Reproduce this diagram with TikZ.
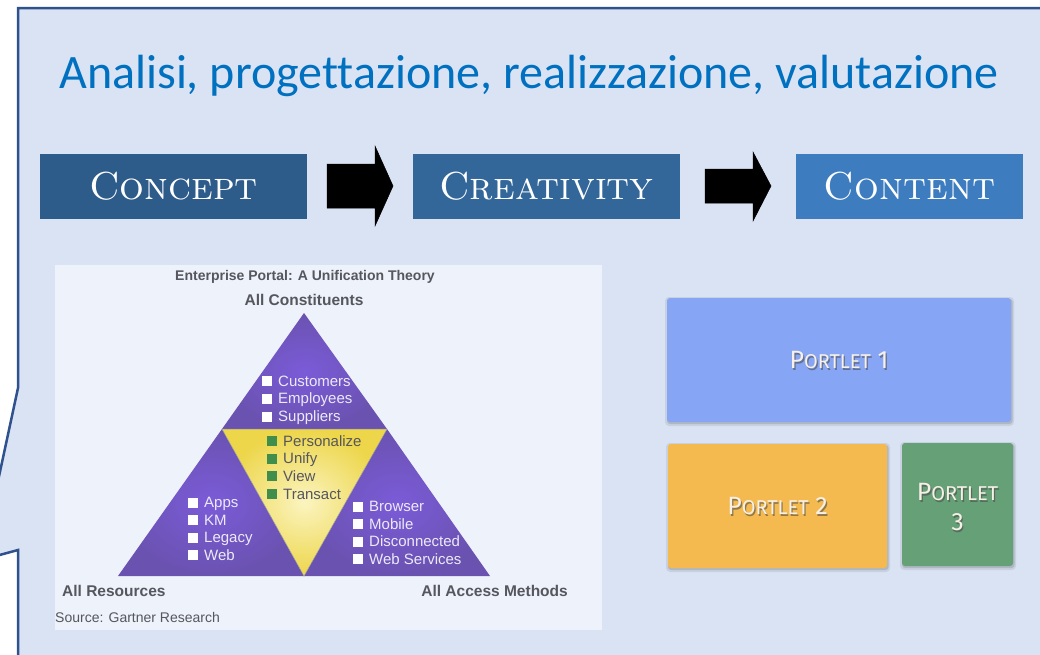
\documentclass[tikz,border=0pt]{standalone}
\usepackage{fontspec}
\newfontfamily\carlito[Ligatures=NoCommon]{Carlito}
\newfontfamily\arial{Liberation Sans}
\newfontfamily\portfont{Fira Sans}
\definecolor{bgblue}{HTML}{DAE3F3}
\definecolor{border}{HTML}{2F528F}
\definecolor{titleblue}{HTML}{0070C0}
\definecolor{cA}{HTML}{2D5B8A}
\definecolor{cB}{HTML}{346799}
\definecolor{cC}{HTML}{3D7CBF}
\definecolor{figbg}{HTML}{EEF2FA}
\definecolor{purpO}{HTML}{6A52B0}
\definecolor{purpI}{HTML}{7B5BD8}
\definecolor{yelO}{HTML}{EDD64A}
\definecolor{yelI}{HTML}{FBF4C0}
\definecolor{sqgreen}{HTML}{3F8E4C}
\definecolor{figtext}{HTML}{55565E}
\definecolor{listw}{HTML}{ECEAF8}
\definecolor{p1}{HTML}{87A5F5}
\definecolor{p2}{HTML}{F4B94F}
\definecolor{p3}{HTML}{66A077}
\definecolor{ptext}{HTML}{F6F0E6}
\newcommand{\psc}[1]{{\fontsize{25}{30}\selectfont P}{\fontsize{20}{30}\selectfont ORTLET}#1}
\begin{document}
\begin{tikzpicture}[x=1pt,y=-1pt,
  stagebox/.style={fill=#1, text=white, inner sep=0pt, minimum height=65pt,
    font=\fontsize{39}{44}\selectfont\scshape},
  blockarrow/.style={fill=black, draw=black, line width=0.5pt},
  figlbl/.style={text=figtext, inner sep=0pt, font=\arial\bfseries\fontsize{15.5}{18}\selectfont},
  itemw/.style={text=listw, inner sep=0pt, anchor=base west, font=\arial\fontsize{15}{18}\selectfont},
  itemg/.style={text=figtext, inner sep=0pt, anchor=base west, font=\arial\fontsize{15}{18}\selectfont},
  portlet/.style={fill=#1, rounded corners=3pt, inner sep=0pt},
  ptxt/.style={text=ptext, inner sep=0pt, align=center, font=\portfont\fontsize{25}{30}\selectfont},
  pshadow/.style={text=black!70, opacity=0.6, inner sep=0pt, align=center, font=\portfont\fontsize{25}{30}\selectfont}
]
\useasboundingbox (0,0) rectangle (1040,654);
\clip (0,0) rectangle (1040,654);
\fill[white] (0,0) rectangle (1040,654);
% callout panel
\filldraw[fill=bgblue, draw=border, line width=2.5pt]
  (18,388) -- (18,8) -- (1060,8) -- (1060,680) -- (18,680) -- (18,550) -- (-19,560) -- cycle;

% title
\node[text=titleblue, anchor=base, inner sep=0pt, font=\carlito\fontsize{48}{58}\selectfont] (title) at (529,88)
  {Analisi, progettazione, realizzazione, valutazione};

% stage boxes
\node[stagebox=cA, minimum width=267pt] (concept) at (173.5,186.5) {Concept};
\node[stagebox=cB, minimum width=267pt] (creativity) at (546.5,186.5) {Creativity};
\node[stagebox=cC, minimum width=227pt] (content) at (909.5,186.5) {Content};

% block arrows
\draw[blockarrow] (327,164) -- (375,164) -- (375,146) -- (393,186) -- (375,226) -- (375,208) -- (327,208) -- cycle;
\draw[blockarrow] (705,169) -- (753,169) -- (753,152) -- (771,186) -- (753,221) -- (753,203) -- (705,203) -- cycle;

% Gartner figure
\node[fill=figbg, inner sep=0pt, minimum width=547pt, minimum height=365pt] (fig) at (328.5,447.5) {};
\coordinate (apex) at (304,313);
\coordinate (bl) at (118,576);
\coordinate (br) at (490,576);
\coordinate (yl) at (222,429);
\coordinate (yr) at (387,429);
\coordinate (yb) at (304,576);
\shade[inner color=purpI, outer color=purpO] (apex) -- (yl) -- (yr) -- cycle;
\shade[inner color=purpI, outer color=purpO] (yl) -- (bl) -- (yb) -- cycle;
\shade[inner color=purpI, outer color=purpO] (yr) -- (yb) -- (br) -- cycle;
\shade[inner color=yelI, outer color=yelO, draw=black!40, line width=0.5pt] (yl) -- (yr) -- (yb) -- cycle;

\node[figlbl, font=\arial\bfseries\fontsize{14}{17}\selectfont] (ftitle) at (305,277) {Enterprise Portal: A Unification Theory};
\node[figlbl] (constit) at (304,300) {All Constituents};
\node[figlbl, anchor=west] (resources) at (62,591) {All Resources};
\node[figlbl, anchor=east] (access) at (568,591) {All Access Methods};
\node[text=figtext, inner sep=0pt, anchor=west, font=\arial\fontsize{14}{17}\selectfont] (source) at (55,617) {Source: Gartner Research};

% lists
\foreach \t [count=\i] in {Customers,Employees,Suppliers} {
  \pgfmathsetmacro{\b}{386+17.8*(\i-1)}
  \fill[white] (262,\b-10) rectangle (272,\b);
  \node[itemw] (c\i) at (278,\b) {\t};
}
\foreach \t [count=\i] in {Personalize,Unify,View,Transact} {
  \pgfmathsetmacro{\b}{446+17.7*(\i-1)}
  \fill[sqgreen] (267,\b-10) rectangle (277,\b);
  \node[itemg] (g\i) at (283,\b) {\t};
}
\foreach \t [count=\i] in {Apps,KM,Legacy,Web} {
  \pgfmathsetmacro{\b}{507.5+17.5*(\i-1)}
  \fill[white] (188,\b-10) rectangle (198,\b);
  \node[itemw] (a\i) at (204,\b) {\t};
}
\foreach \t [count=\i] in {Browser,Mobile,Disconnected,Web Services} {
  \pgfmathsetmacro{\b}{511.5+17.5*(\i-1)}
  \fill[white] (353,\b-10) rectangle (363,\b);
  \node[itemw] (b\i) at (369,\b) {\t};
}

% portlets
\foreach \cx/\cy/\w/\h in {839/360/344/124, 777.5/506/219/124, 957.5/504.5/111/123} {
  \fill[black, opacity=0.08, rounded corners=4pt] (\cx-\w/2-2,\cy-\h/2-1) rectangle (\cx+\w/2+3,\cy+\h/2+4);
  \fill[black, opacity=0.12, rounded corners=3pt] (\cx-\w/2,\cy-\h/2+1) rectangle (\cx+\w/2+1.5,\cy+\h/2+2);
}
\node[portlet=p1, minimum width=344pt, minimum height=124pt] (port1) at (839,360) {};
\node[portlet=p2, minimum width=219pt, minimum height=124pt] (port2) at (777.5,506) {};
\node[portlet=p3, minimum width=111pt, minimum height=123pt] (port3) at (957.5,504.5) {};
\node[pshadow] (s1) at ([shift={(1.2,1.5)}]port1.center) {\psc{ 1}};
\node[ptxt] (t1) at (port1.center) {\psc{ 1}};
\node[pshadow] (s2) at ([shift={(1.2,1.5)}]port2.center) {\psc{ 2}};
\node[ptxt] (t2) at (port2.center) {\psc{ 2}};
\node[pshadow] (s3) at ([shift={(1.2,4.5)}]port3.center) {\psc{}\\3};
\node[ptxt] (t3) at ([yshift=-3pt]port3.center) {\psc{}\\3};
\end{tikzpicture}
\end{document}
